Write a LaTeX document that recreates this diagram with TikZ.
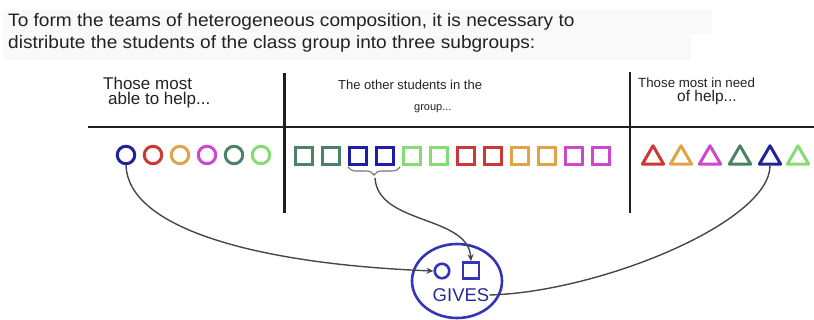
\documentclass[tikz,border=0pt]{standalone}
\usepackage{fontspec}
\setmainfont{Liberation Sans}
\newfontfamily\titlefont[FakeStretch=1.06]{Liberation Sans}
\usetikzlibrary{shapes.geometric,decorations.pathreplacing,arrows.meta}
\definecolor{cdblue}{HTML}{22229A}
\definecolor{cred}{HTML}{CC3838}
\definecolor{corange}{HTML}{E0A448}
\definecolor{cmag}{HTML}{CC48CC}
\definecolor{cgg}{HTML}{4E8266}
\definecolor{clg}{HTML}{86DC74}
\definecolor{cell}{HTML}{3434B8}
\definecolor{ctxt}{HTML}{222222}
\definecolor{cbg}{HTML}{F9F9F9}
\begin{document}
\begin{tikzpicture}[x=1pt,y=-1pt,
  txt/.style={anchor=base west,inner sep=0,text=ctxt},
  circ/.style={circle,draw=#1,line width=3pt,minimum size=17.5pt,inner sep=0},
  sqr/.style={rectangle,draw=#1,line width=3pt,minimum size=16.5pt,inner sep=0},
  tri/.style={regular polygon,regular polygon sides=3,draw=#1,line width=3pt,line join=round,minimum size=24.5pt,inner sep=0},
  rule/.style={draw=black!88,line width=2.2pt},
  link/.style={draw=black!72,line width=1.4pt},
  tip/.style={-{Stealth[length=7pt,width=6pt]}}
]
\useasboundingbox (0,0) rectangle (814,320);
\fill[cbg] (3,10) rectangle (712,34);
\fill[cbg] (3,35) rectangle (691,60);
% title
\node[txt,font=\titlefont\fontsize{18}{20}\selectfont] (t1) at (8,27) {To form the teams of heterogeneous composition, it is necessary to};
\node[txt,font=\titlefont\fontsize{18}{20}\selectfont] (t2) at (8,49) {distribute the students of the class group into three subgroups:};
% headers
\node[txt,font=\fontsize{17}{19}\selectfont] (h1a) at (103,89.5) {Those most};
\node[txt,font=\fontsize{17}{19}\selectfont] (h1b) at (108,105) {able to help...};
\node[txt,font=\fontsize{13}{15}\selectfont] (h2a) at (338,90) {The other students in the};
\node[txt,font=\fontsize{11}{13}\selectfont] (h2b) at (414,111) {group...};
\node[txt,font=\fontsize{13.3}{15}\selectfont] (h3a) at (638,88) {Those most in need};
\node[txt,font=\fontsize{15.5}{17}\selectfont] (h3b) at (677,102) {of help...};
% rules
\draw[rule] (88,127) -- (814,127);
\draw[rule] (284.5,73) -- (284.5,213);
\draw[rule] (630,72) -- (630,213);
% circles
\node[circ=cdblue] (c1) at (126,155) {};
\node[circ=cred] (c2) at (153,155) {};
\node[circ=corange] (c3) at (180,155) {};
\node[circ=cmag] (c4) at (207,155) {};
\node[circ=cgg] (c5) at (234,155) {};
\node[circ=clg] (c6) at (261,155) {};
% squares
\node[sqr=cgg] (s1) at (304,156) {};
\node[sqr=cgg] (s2) at (331,156) {};
\node[sqr=cdblue!85!blue] (s3) at (358,156) {};
\node[sqr=cdblue!85!blue] (s4) at (385,156) {};
\node[sqr=clg] (s5) at (412,156) {};
\node[sqr=clg] (s6) at (439,156) {};
\node[sqr=cred] (s7) at (466,156) {};
\node[sqr=cred] (s8) at (493,156) {};
\node[sqr=corange] (s9) at (520,156) {};
\node[sqr=corange] (s10) at (547,156) {};
\node[sqr=cmag] (s11) at (574,156) {};
\node[sqr=cmag] (s12) at (601,156) {};
% triangles
\node[tri=cred] (r1) at (653,158) {};
\node[tri=corange] (r2) at (681,158) {};
\node[tri=cmag] (r3) at (710,158) {};
\node[tri=cgg] (r4) at (740,158) {};
\node[tri=cdblue] (r5) at (770,158) {};
\node[tri=clg] (r6) at (798,158) {};
% brace
\coordinate (bl) at (348,167);
\coordinate (br) at (400,167);
\coordinate (btip) at (375,178);
\draw[black!55,line width=1.1pt,decorate,decoration={brace,amplitude=8pt}] (br) -- (bl);
% gives group
\node[ellipse,draw=cell,line width=2.6pt,minimum width=90pt,minimum height=74pt,inner sep=0] (grp) at (457,281) {};
\node[circle,draw=cell,line width=2.6pt,minimum size=14.5pt,inner sep=0] (ic) at (442,271) {};
\node[rectangle,draw=cell,line width=2.6pt,minimum size=16pt,inner sep=0] (is) at (471,270.5) {};
\node[inner sep=0,font=\fontsize{18.5}{20}\selectfont,text=cell!80!black] (gt) at (461,295) {GIVES};
% connectors
\draw[link,tip] (c1.south) .. controls (128,228) and (255,264) .. (ic.west);
\draw[link,tip] (btip) .. controls (378,225) and (468,215) .. (is.north);
\draw[link] (gt.east) .. controls (600,292) and (770,222) .. (r5.south);
\end{tikzpicture}
\end{document}
